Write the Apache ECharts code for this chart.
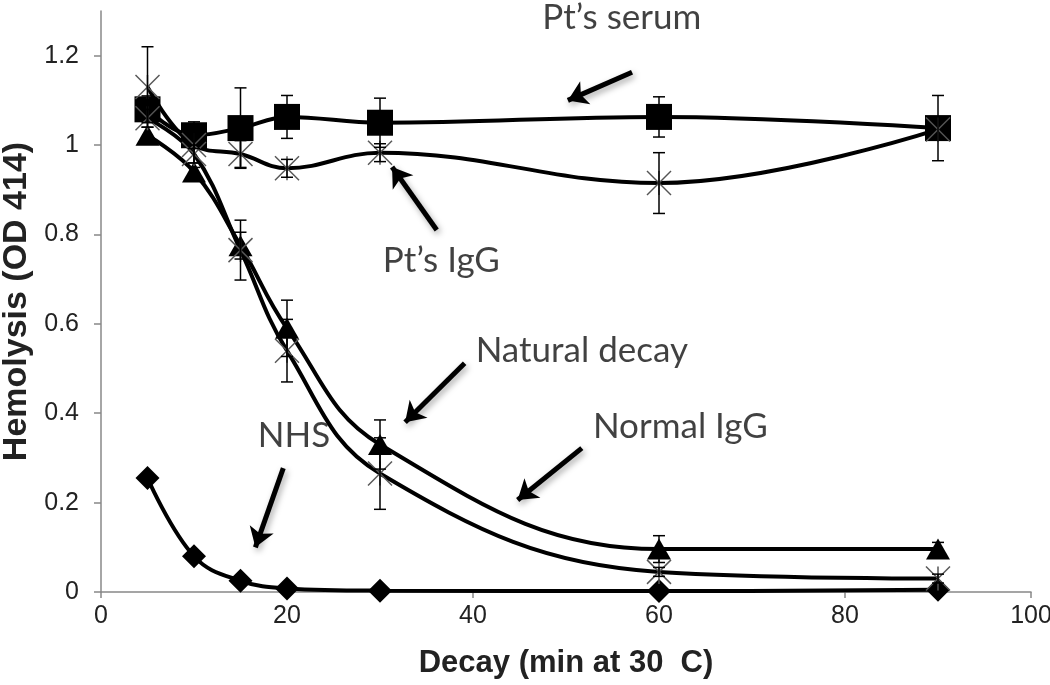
<!DOCTYPE html>
<html>
<head>
<meta charset="utf-8">
<script src="https://cdn.jsdelivr.net/npm/echarts@6/dist/echarts.min.js"></script>
<style>
  html, body { margin: 0; padding: 0; background: #fff; }
  #chart { width: 1050px; height: 685px; }
</style>
</head>
<body>
<div id="chart"></div>
<script>
const decayMin = [5, 10, 15, 20, 30, 60, 90]

const ptSerum = [1.08, 1.022, 1.038, 1.063, 1.05, 1.063, 1.038]
const ptSerumErr = [0.03, 0.03, 0.09, 0.048, 0.055, 0.045, 0.073]
const ptIgG = [1.13, 1.0, 0.98, 0.948, 0.983, 0.915, 1.035]
const ptIgGErr = [0.09, 0.04, 0.03, 0.02, 0.02, 0.068, 0]
const naturalDecay = [1.022, 0.94, 0.775, 0.59, 0.33, 0.096, 0.096]
const naturalDecayErr = [0, 0.01, 0.03, 0.063, 0.055, 0.03, 0.015]
const normalIgG = [1.06, 0.98, 0.765, 0.54, 0.265, 0.045, 0.03]
const normalIgGErr = [0.02, 0.02, 0.067, 0.07, 0.08, 0.01, 0.01]
const nhs = [0.255, 0.08, 0.025, 0.008, 0.003, 0.002, 0.005]

const yTicks = [0, 0.2, 0.4, 0.6, 0.8, 1, 1.2]
const xTicks = [0, 20, 40, 60, 80, 100]

// callouts: text + arrow (data coords)
const notes = [
  { text: 'Pt\u2019s serum', at: [56.0, 1.286], from: [57.1, 1.163], to: [50.2, 1.10] },
  { text: 'Pt\u2019s IgG', at: [36.6, 0.741], from: [36.1, 0.81], to: [31.3, 0.951] },
  { text: 'Natural decay', at: [51.7, 0.539], from: [39.1, 0.512], to: [32.7, 0.38] },
  { text: 'Normal IgG', at: [62.3, 0.369], from: [51.7, 0.322], to: [44.8, 0.206] },
  { text: 'NHS', at: [20.75, 0.349], from: [19.6, 0.277], to: [16.6, 0.10] },
]

const zip = (ys, errs) => decayMin.map((x, i) => errs ? [x, ys[i], errs[i]] : [x, ys[i]])

const chart = echarts.init(document.getElementById('chart'), null, { renderer: 'canvas' })

function errorBars(params, api) {
  const x = api.value(0), y = api.value(1), e = api.value(2)
  if (!e) return
  const top = api.coord([x, y + e])
  const bot = api.coord([x, y - e])
  const w = 6
  const st = { stroke: '#000', lineWidth: 1.5 }
  return {
    type: 'group',
    children: [
      { type: 'line', shape: { x1: top[0], y1: top[1], x2: bot[0], y2: bot[1] }, style: st },
      { type: 'line', shape: { x1: top[0] - w, y1: top[1], x2: top[0] + w, y2: top[1] }, style: st },
      { type: 'line', shape: { x1: bot[0] - w, y1: bot[1], x2: bot[0] + w, y2: bot[1] }, style: st },
    ],
  }
}

function asterisk(params, api) {
  const p = api.coord([api.value(0), api.value(1)])
  const r = 12
  const st = { stroke: '#555', lineWidth: 1.5 }
  return {
    type: 'group',
    children: [
      { type: 'line', shape: { x1: p[0] - r, y1: p[1] - r, x2: p[0] + r, y2: p[1] + r }, style: st },
      { type: 'line', shape: { x1: p[0] - r, y1: p[1] + r, x2: p[0] + r, y2: p[1] - r }, style: st },
      { type: 'line', shape: { x1: p[0], y1: p[1] - r, x2: p[0], y2: p[1] + r }, style: st },
    ],
  }
}

const lineBase = {
  type: 'line', smooth: 0.4, z: 3,
  lineStyle: { color: '#000', width: 4 },
  itemStyle: { color: '#000' },
}

const series = [
  { ...lineBase, name: 'NHS', data: zip(nhs), symbol: 'diamond', symbolSize: 24 },
  { ...lineBase, name: 'Natural decay', data: zip(naturalDecay), symbol: 'triangle', symbolSize: [24, 21] },
  { ...lineBase, name: 'Normal IgG', data: zip(normalIgG), symbol: 'none' },
  { ...lineBase, name: 'Pt\u2019s IgG', data: zip(ptIgG), symbol: 'none' },
  { ...lineBase, name: 'Pt\u2019s serum', data: zip(ptSerum), symbol: 'rect', symbolSize: 26 },
  { type: 'custom', renderItem: asterisk, data: zip(normalIgG), z: 4 },
  { type: 'custom', renderItem: asterisk, data: zip(ptIgG), z: 4 },
  ...[
    [naturalDecay, naturalDecayErr], [normalIgG, normalIgGErr],
    [ptIgG, ptIgGErr], [ptSerum, ptSerumErr],
  ].map(([ys, es]) => ({ type: 'custom', renderItem: errorBars, data: zip(ys, es), z: 5 })),
  {
    type: 'scatter', symbolSize: 0, z: 6, silent: true,
    data: notes.map(n => ({ value: n.at, name: n.text })),
    label: {
      show: true, position: 'inside', formatter: p => p.name,
      color: '#111', fontSize: 35, fontFamily: 'Lato, "Open Sans", sans-serif',
    },
    markLine: {
      silent: true, symbol: ['none', 'arrow'], symbolSize: [19, 19],
      label: { show: false },
      lineStyle: {
        color: '#000', width: 5, type: 'solid',
        shadowColor: 'rgba(0,0,0,0.35)', shadowBlur: 6, shadowOffsetX: 2, shadowOffsetY: 3,
      },
      data: notes.map(n => [{ coord: n.from }, { coord: n.to }]),
    },
  },
]

const axisFont = { color: '#222', fontSize: 25, fontFamily: '"Liberation Sans", Arial, sans-serif' }

const option = {
  animation: false,
  backgroundColor: '#fff',
  grid: { left: 101, right: 19, top: 11, bottom: 93, containLabel: false, outerBoundsMode: 'none' },
  xAxis: {
    type: 'value', min: 0, max: 100, interval: 20,
    name: 'Decay (min at 30  C)', nameLocation: 'middle', nameGap: 56,
    nameTextStyle: { ...axisFont, fontSize: 31, fontWeight: 'bold' },
    axisLine: { show: true, lineStyle: { color: '#888', width: 1.5 } },
    axisTick: { show: true, length: 6, lineStyle: { color: '#888', width: 1.5 } },
    axisLabel: { ...axisFont, margin: 12, customValues: xTicks },
    splitLine: { show: false },
  },
  yAxis: {
    type: 'value', min: 0, max: 1.3, interval: 0.2,
    name: 'Hemolysis (OD 414)', nameLocation: 'middle', nameGap: 62,
    nameTextStyle: { ...axisFont, fontSize: 34, fontWeight: 'bold' },
    axisLine: { show: true, lineStyle: { color: '#888', width: 1.5 } },
    axisTick: { show: true, length: 7, lineStyle: { color: '#888', width: 1.5 }, customValues: yTicks },
    axisLabel: { ...axisFont, margin: 22, customValues: yTicks, formatter: v => String(+v.toFixed(1)) },
    splitLine: { show: false },
  },
  series,
}

chart.setOption(option)
</script>
</body>
</html>
